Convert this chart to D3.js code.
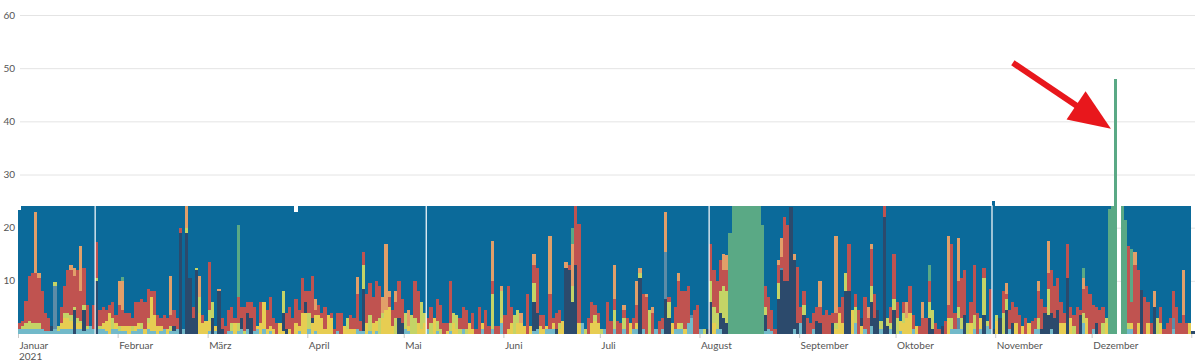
<!DOCTYPE html>
<html>
<head>
<meta charset="utf-8">
<script src="https://cdn.jsdelivr.net/npm/d3@7"></script>
<style>
  body { margin: 0; background: #fff; }
  text { font-family: Lato, "Open Sans", sans-serif; }
</style>
</head>
<body>
<svg id="viz" width="1200" height="364"></svg>
<script>
// one entry per day, "code+hours": t teal, y yellow, n navy, s slate, l lime, r red, o tan, g green
// whatever is left of the day is drawn as the blue rest on top
var jan = ["t1 r1","t1 l.5 r1","t1 l1 r4.3","t1 l1.5 r8.5","t1 l1 r9.5","t1 l1 r9.5 o11.5","t1 l1 r8.5 o1","t1 r7","t.5 r3.5","t.5 r2.5",
  "t.5 n1","t1 s8 l.8","t.5 l1","t1 y1 r3","t1 y2 l1 r5","t1 y2 l1 r8","t1 y1.5 l1 r8.5 o1","n4.5 l.5 r6 o1.5","t1 y1 l1 r9","t1 y1 l.5 r5.5 o8.5",
  "t.5 n4 l1 r7","t1 l.5 r4","t1.5","t1 r4.5","n10 l.6 r6.7","t1 l.5 r3","t1 y1 r3","t.5 y2 r2","y4 r1.5","t1 l2 r3","t1 y1 r1.5"];
var feb = ["t.5 l1 r4 o4.5","t.5 y1 r3 o5.5 g.8","t.5 y1 r2.5","y1.5 r2.5","t.5 l1 r1.5","t.5 y1 r4.5","t1 y1 r4","t1 l1 r4.5","y1 r5","t1 y1 l1 r5.5",
  "t.5 y6.5 r1","t.5 y3 r4.5","y1.5 r2","t.5 y1 r1.5","t1 r2.5","y1 r2","t.5 l1 r2 o7.5","t.5 n1 r3","t1 r2","n19 r1",
  "t1","n19 l1 o4","n10.5","n3 r2","n12 l.5","y4 l3 o4","y2 r1.5","y2.5"];
var mar = ["t.5 y2 l2 r9","n3 l3","t.5 y1","n8 o.5","n1 r2","r1.5","t.5 r4","t.5 l1.5 r3","y2 r1","t.5 l1.5 r5 g13.5",
  "t1 n2 r2","l.5 r4.5","t1 n3 r2","n3 r3","t.5 r4.5","t1 y.5","y2 r4","t1 y5","y1 r3.5","t.5 y1 r5.5",
  "y1 r2","r2","y2","y.5 n3.5 l4","n1 r3","y1 r4","r3","y2 r4.5","t.5 y1 r3","y4 r6.5","n2 y4 r2"];
var apr = ["t1 l3 r4","n1 y2 r8","t.5 y3 r1 o2","y3.5 r2","y3 r1","y1 r4","y3.5","y3 r1","r1","t.5 r3.5",
  "r4","y1.5","y1 l2","y1 r2.5","y1 r2","t1 r6.5 o3.3","t.5 r2","t.5 n8 l4.5 r2.5","y2 r5.5","t.5 l3 r6",
  "y2 r5","t.5 y2 r7.5","l3 r6","y3 l1 o3","y4.5 o12.5","y5 r2 o1","y1.5 r3","l3 r3 o2","n3 r7","n2 r4.5"];
var may = ["t1 l3","t.5 y1 o3","l3.5","l3 r7","y2 r6","y1 l5","y2 l2","t1 r2","l2 r3","y3",
  "t.5 l2 r4","l1 r4.5","r2","y.5 r1.5","t.5 l1.5 r8","y2 l2","y1 l2.5","l1 r2","t1 r4","l1 r3.5",
  "y2","y1 r3","r1","r5","t1 y1","r4.5","r1.5","t1 l6.5 r2.5 o7.5","r1.5","r1.5","t2 y1 l5 o1"];
var jun = ["r3.5","y1 r8","y2 r3","l3.5","y2 l2.5","y2 o2","y1.5","r7.5","y1.5","t.5 n5.5 l3.5 r3.5 o2",
  "t1 n3 r8.5","y1.5 r2","y1 r2.5","t1 y.5","t1 r6.5 o11","t1 y1 r1","n1 r3","y1 l1 r2.5","y2.5","n12.5 o1",
  "n12 r1","n6 l3 o8 g3","n13 r11","y2 r18.7","t2","l1","r3","y2 r4","y2.5 l1 r2","y2 r2"];
var jul = ["l1","t1","r6","r2.5","t1 l3.5 r2 o6.5","r2.5","r2","t1 l2 r1.5 o1","r3","y2",
  "t1 r2","t1 y1 r3.5 o4.5","n10.5 l1 o1","t1 r6.5","r7 o.5","l4.5","r4 o1","t1","r2.5","t1 r2",
  "n6.5 s9 o7.5","n3 l3 r1","y2","t1 r4","t1 y1 r8 o1.5","t1 l1 r6","y1 r7","t2 r7","t3 s.5","r4.5","r5.5"];
var aug = ["t1","l1","n1","n6 l4 r7","y2 l3 r7","t1 l3 r6","t1 n3 l4 r6","n3 l6 r3 o3","n2 l6 r4 o2.8","g19",
  "g24","g24","g24","g24","g24","g24","g24","g24","g24","g20.5",
  "t.5 n3 l1.5 r4","t1 r6","t.5 r4","r1","n6.5 l3 r3.5 o1","n12 s.5 r2 o3.5","n10 r12","n10 r10.5","n23.8","t1 n13 o1","n2 r10.6"];
var sep = ["t2 r3","n3.5 l2 r2.5","r3","r2","t1 r3","n2.5 r2.5","n2 r3 o5","r3.5","r4.5","r3.5",
  "n2 r2","y1 l1 r2 o14.5","y4 r1","y2 r5","n8 l3.5","n8 r9","y4.5","t2 l3 r2.5","r4.5","n1.5 y1.5",
  "t1 r6","r3 o2","t1.5 n4.5 l3 r7 o1","n3 r4.5","n4.5","t1 l1.5","n22 r2","n1.5 l1.5","t1 l1 r3","n4.5 l2 r8.5"];
var oct = ["l3 r3","t.5 y2","y2 l2 r2","y3 o3","y4 r5","t1 r2.5","y1.5","r1.5","r3 o3","r3",
  "n3 l3 r4 g3","n1 l3.5","r2","r1","n1.5","r2.5","y3 r2.5 o13","t1 l2 r14","t1 r3","t1 s2 l2 r5 o8",
  "t1 l2 r7.5","n3.5 r8.5","l2","y2 r4","t1 l2.5 r9.5","r4","t1 y2","n3.5 l7 r2","t1.5 l1","t1 r7.5","n1"];
var nov = ["y2.5 l1","n3","l4 r4","n4.5 l2 r1 o2","t1 r3.5","n2 r4","y2 r3","r3.5","y1.5","r3",
  "y2","r2.5","t1 r2","t1 l2 r5 o2","n1 r5.5","n4 r1","n3.5 l5 r3 o6","t1 n3 r8","n3 r6","n4.5 r6",
  "y2 r4","y2 r2","n10.5 r6.5","y3 r2","l1.5 r2","r5","n3.5 r1","t2 l2 r4.5 o2 g2","y3 r6","r7.5"];
var dec = ["t1 r4.5","n2 r3","r4.5","l2 r3","y2 l1","g23.5","g24","g48","","g24",
  "g21.4","t1 l1 r14.5","t1 y1 r4 g10","r13 o2.5","y2 r10","n8.3","r7","y2 r4","r2","n5 o3",
  "l3","y2 r3","r1","r2","r3","t1 s2 r5","r5","r2","r3.5 o8.5","r2","y2"];
var jan22 = ["n.5"];

// days that are not 24 hours long (time shift, start/end of recording, missing day)
var oddDays = ["2021-01-01", "2021-03-28", "2021-10-31", "2021-12-09", "2022-01-01"];
var oddHours = [23.3, 23, 25, 0, 0];
// thin white seams in the record
var seamDays = ["2021-01-25", "2021-05-08", "2021-08-04", "2021-10-31"];

var monthNames = ["Januar","Februar","März","April","Mai","Juni","Juli","August","September","Oktober","November","Dezember"];
var yTicks = [10, 20, 30, 40, 50, 60];

var keys = ["t","y","n","s","l","r","o","g","rest"];
var colors = {t:"#72b9c9", y:"#e7cd52", n:"#2c4a6c", s:"#5d8ca7", l:"#c4d466", r:"#c05350",
              o:"#e29f69", g:"#5aa985", rest:"#0b6a9a"};

var arrowFrom = {date: "2021-11-06T12:00", value: 51};
var arrowTo = {date: "2021-12-07T00:00", value: 38.6};

var parse = d3.utcParse("%Y-%m-%d");
var parseT = d3.utcParse("%Y-%m-%dT%H:%M");

function buildRows(){
  var rows = [];
  var day = parse("2021-01-01");
  var odd = new Map(oddDays.map(function(s, i){ return [s, oddHours[i]]; }));
  var fmt = d3.utcFormat("%Y-%m-%d");
  [jan,feb,mar,apr,may,jun,jul,aug,sep,oct,nov,dec,jan22].forEach(function(month){
    month.forEach(function(entry){
      var row = {date: day};
      keys.forEach(function(k){ row[k] = 0; });
      entry.split(" ").forEach(function(tok){
        if(tok.length > 1) row[tok[0]] = +tok.slice(1);
      });
      var sum = d3.sum(keys.slice(0, -1), function(k){ return row[k]; });
      var hours = odd.has(fmt(day)) ? odd.get(fmt(day)) : 24;
      row.rest = Math.max(0, hours - sum);
      rows.push(row);
      day = d3.utcDay.offset(day, 1);
    });
  });
  return rows;
}

function main(){
  var rows = buildRows();
  var svg = d3.select("#viz");

  var x = d3.scaleUtc()
    .domain([parse("2021-01-01"), parse("2022-01-02")])
    .range([18, 18 + 366 * 3.2145]);
  var y = d3.scaleLinear().domain([0, 60]).range([334, 15]);

  // grid
  svg.append("g").selectAll("line")
    .data(yTicks).join("line")
    .attr("x1", 20).attr("x2", 1195)
    .attr("y1", function(d){ return y(d) + 0.5; })
    .attr("y2", function(d){ return y(d) + 0.5; })
    .attr("stroke", "#e4e4e4");
  svg.append("g").selectAll("text")
    .data(yTicks).join("text")
    .attr("x", 15).attr("y", function(d){ return y(d); })
    .attr("dy", "0.35em")
    .attr("text-anchor", "end")
    .attr("font-size", 10)
    .attr("fill", "#555")
    .text(function(d){ return d; });

  // stacked days
  var series = d3.stack().keys(keys)(rows);
  var bars = svg.append("g").attr("shape-rendering", "crispEdges");
  series.forEach(function(s){
    bars.append("g").attr("fill", colors[s.key])
      .selectAll("rect")
      .data(s.filter(function(d){ return d[1] - d[0] > 0; }))
      .join("rect")
      .attr("x", function(d){ return x(d.data.date); })
      .attr("width", function(d){ return x(d3.utcDay.offset(d.data.date, 1)) - x(d.data.date); })
      .attr("y", function(d){ return y(d[1]); })
      .attr("height", function(d){ return y(d[0]) - y(d[1]); });
  });

  // seams
  svg.append("g").selectAll("rect")
    .data(seamDays).join("rect")
    .attr("x", function(d){ return x(parse(d)) - 0.6; })
    .attr("width", 1.2)
    .attr("y", y(24.2)).attr("height", y(0) - y(24.2))
    .attr("fill", "#fff");

  // month axis
  var ax = svg.append("g")
    .attr("transform", "translate(0," + y(0) + ")")
    .call(d3.axisBottom(x)
      .ticks(d3.utcMonth.every(1))
      .tickSize(4)
      .tickFormat(function(d){ return d.getUTCFullYear() === 2021 ? monthNames[d.getUTCMonth()] : ""; }));
  ax.select(".domain").remove();
  ax.selectAll(".tick line").attr("stroke", "#c8c8c8");
  ax.selectAll(".tick text")
    .attr("text-anchor", "start")
    .attr("x", 1).attr("y", 8)
    .attr("font-family", "Lato, sans-serif")
    .attr("font-size", 10)
    .attr("fill", "#555");
  svg.append("text")
    .attr("x", x(parse("2021-01-01")) + 1).attr("y", 360)
    .attr("font-size", 10).attr("fill", "#555")
    .text("2021");

  // arrow annotation
  var x0 = x(parseT(arrowFrom.date)), y0 = y(arrowFrom.value);
  var x1 = x(parseT(arrowTo.date)), y1 = y(arrowTo.value);
  var len = Math.hypot(x1 - x0, y1 - y0), ux = (x1 - x0) / len, uy = (y1 - y0) / len;
  var headL = 42, headW = 17;
  var bx = x1 - ux * headL, by = y1 - uy * headL;
  svg.append("line")
    .attr("x1", x0).attr("y1", y0).attr("x2", bx + ux * 2).attr("y2", by + uy * 2)
    .attr("stroke", "#e8171c").attr("stroke-width", 6);
  svg.append("path")
    .attr("d", "M" + x1 + "," + y1 +
      "L" + (bx - uy * headW) + "," + (by + ux * headW) +
      "L" + (bx + uy * headW) + "," + (by - ux * headW) + "Z")
    .attr("fill", "#e8171c");
}

main();
</script>
</body>
</html>
